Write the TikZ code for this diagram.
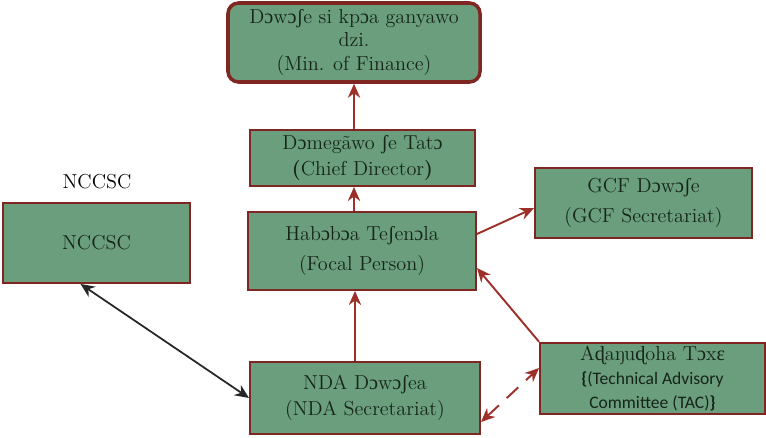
\documentclass[tikz,border=0pt]{standalone}
\usepackage{fontspec}
\usepackage{tikz}
\usetikzlibrary{arrows.meta, positioning, calc}
\usepackage{xcolor}

\newfontfamily\ipafont{Liberation Serif}
\newfontfamily\calib{Carlito}
\newcommand{\oo}{{\ipafont ɔ}}
\newcommand{\esh}{{\ipafont ʃ}}
\newcommand{\dd}{{\ipafont ɖ}}
\newcommand{\ee}{{\ipafont ɛ}}

\definecolor{boxgreen}{RGB}{106,158,124}
\definecolor{boxline}{RGB}{128,38,34}
\definecolor{arrred}{RGB}{158,48,42}
\definecolor{inkdark}{RGB}{22,36,26}

\tikzset{
  unit/.style={draw=boxline, fill=boxgreen, line width=1.1pt, align=center, text=inkdark,
               inner sep=2pt, font=\fontsize{11.5}{13.5}\selectfont},
  link/.style={-{Stealth[length=8pt,width=7pt]}, draw=arrred, line width=1.1pt},
}

\begin{document}
\begin{tikzpicture}[x=0.02cm, y=0.02cm]
            \useasboundingbox (0,0) rectangle (766,437);

            \node[unit, rounded corners=6pt, line width=2pt, minimum width=252*0.02cm, minimum height=79*0.02cm] (mof) at (354,394.5)
                {D\oo w\oo\esh e si kp\oo a ganyawo\\dzi.\\(Min. of Finance)};
            \node[unit, minimum width=225*0.02cm, minimum height=56*0.02cm] (chief) at (362.5,279)
                {D\oo meg\~awo \esh e Tat\oo\\[1pt]\textbf{(}Chief Director\textbf{)}};
            \node[unit, minimum width=228*0.02cm, minimum height=78*0.02cm] (focal) at (362,186)
                {Hab\oo b\oo a Te\esh en\oo la\\[4pt](Focal Person)};
            \node[unit, minimum width=217*0.02cm, minimum height=70*0.02cm] (gcf) at (643.5,234)
                {GCF D\oo w\oo\esh e\\[4pt](GCF Secretariat)};
            \node[unit, minimum width=187*0.02cm, minimum height=80*0.02cm] (nccsc) at (96.5,194) {NCCSC};
            \node[font=\fontsize{11.5}{13.5}\selectfont] (nccsclabel) at (97,255) {NCCSC};
            \node[unit, minimum width=230*0.02cm, minimum height=72*0.02cm] (nda) at (365,39)
                {NDA D\oo w\oo\esh ea\\[1pt](NDA Secretariat)};
            \node[unit, minimum width=225*0.02cm, minimum height=71*0.02cm] (tac) at (652.5,58.5)
                {A\dd a\ng u\dd oha T\oo x\ee\\[0pt]{\calib\fontsize{10}{12}\selectfont\textbf{\{}(Technical Advisory}\\{\calib\fontsize{10}{12}\selectfont Committee (TAC)\textbf{\}}}};

            \draw[link] (chief.north -| mof.south) -- (mof.south);
            \draw[link] (focal.north -| mof.south) -- (chief.south -| mof.south);
            \draw[link] (nda.north -| 355,0) -- (focal.south -| 355,0);
            \draw[link] ($(focal.east)+(0,17)$) -- ($(gcf.west)+(0,-5)$);
            \draw[link] (tac.north west) -- ($(focal.east)+(0,-17)$);
            \draw[link, {Stealth[length=8pt,width=7pt]}-{Stealth[length=8pt,width=7pt]}, dashed, dash pattern=on 9pt off 6pt]
                ($(nda.east)+(0,-24)$) -- ($(tac.west)+(0,10.5)$);
            \draw[{Stealth[length=8pt,width=7pt]}-{Stealth[length=8pt,width=7pt]}, line width=1pt, black!85]
                ($(nccsc.south)+(-16,0)$) -- (nda.west);
        \end{tikzpicture}
\end{document}
